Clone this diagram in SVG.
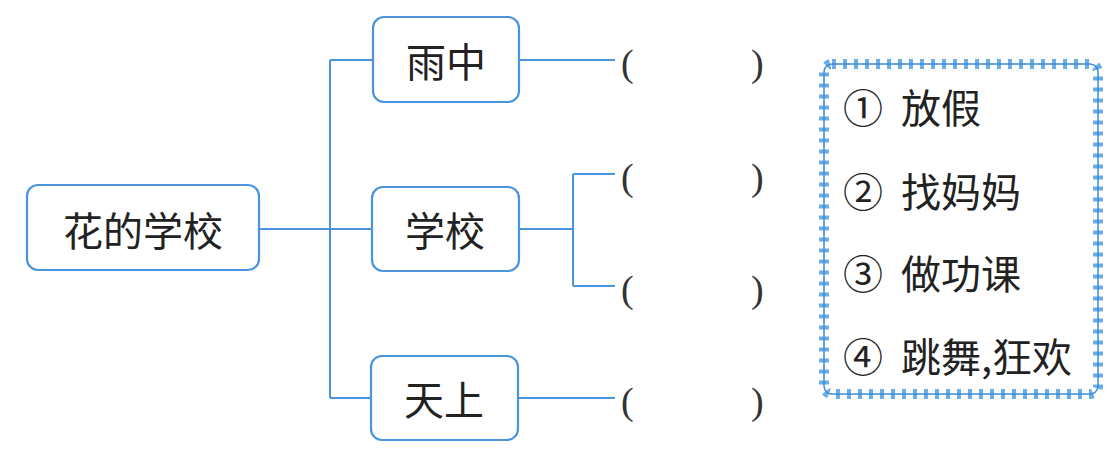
<svg xmlns="http://www.w3.org/2000/svg" width="1107" height="453" viewBox="0 0 1107 453">
<style>
.box{fill:#fff;stroke:#4a94dc;stroke-width:2.2}
.ln{fill:none;stroke:#4a94dc;stroke-width:2}
.t{font-family:"Noto Sans CJK SC","Liberation Serif",serif;font-size:40px;fill:#222;text-anchor:middle;dominant-baseline:central}
.p{font-family:"Liberation Serif","Noto Sans CJK SC",serif;font-size:38px;fill:#333;dominant-baseline:central}
.o{font-family:"Noto Sans CJK SC","Liberation Serif",serif;font-size:40px;fill:#222;dominant-baseline:central}
.n{font-family:"Noto Sans CJK SC","Liberation Serif",serif;font-size:40px;fill:#222;dominant-baseline:central}
</style>
<rect width="1107" height="453" fill="#fff"/>
<g id="connectors">
<path class="ln" d="M260 229H372M330 60V398M330 60H373M330 398H372"/>
<path class="ln" d="M519 60H615M519 229H573M573 174V286M573 174H615M573 286H615M518 398H615"/>
</g>
<g id="root"><rect class="box" x="27" y="185" width="232" height="85" rx="11"/><text class="t" x="143" y="229">花的学校</text></g>
<g id="n-yuzhong"><rect class="box" x="373" y="17" width="146" height="85" rx="11"/><text class="t" x="446" y="60">雨中</text></g>
<g id="n-xuexiao"><rect class="box" x="372" y="187" width="147" height="84" rx="11"/><text class="t" x="445" y="229">学校</text></g>
<g id="n-tianshang"><rect class="box" x="371" y="356" width="147" height="84" rx="11"/><text class="t" x="444" y="398">天上</text></g>
<g id="blanks">
<text class="p" x="621" y="63">(</text><text class="p" x="751" y="63">)</text>
<text class="p" x="621" y="177">(</text><text class="p" x="751" y="177">)</text>
<text class="p" x="621" y="289">(</text><text class="p" x="751" y="289">)</text>
<text class="p" x="621" y="401">(</text><text class="p" x="751" y="401">)</text>
</g>
<g id="options">
<rect x="824" y="64" width="274" height="330" rx="8" fill="none" stroke="#6aaee8" stroke-width="10" stroke-dasharray="4 7"/>
<rect x="824" y="64" width="274" height="330" rx="8" fill="none" stroke="#3d8ad6" stroke-width="1.5"/>
<text class="n" x="843" y="106">①</text><text class="o" x="901" y="106">放假</text>
<text class="n" x="843" y="190">②</text><text class="o" x="901" y="190">找妈妈</text>
<text class="n" x="843" y="272">③</text><text class="o" x="901" y="272">做功课</text>
<text class="n" x="843" y="355">④</text><text class="o" x="901" y="355">跳舞,狂欢</text>
</g>
</svg>
